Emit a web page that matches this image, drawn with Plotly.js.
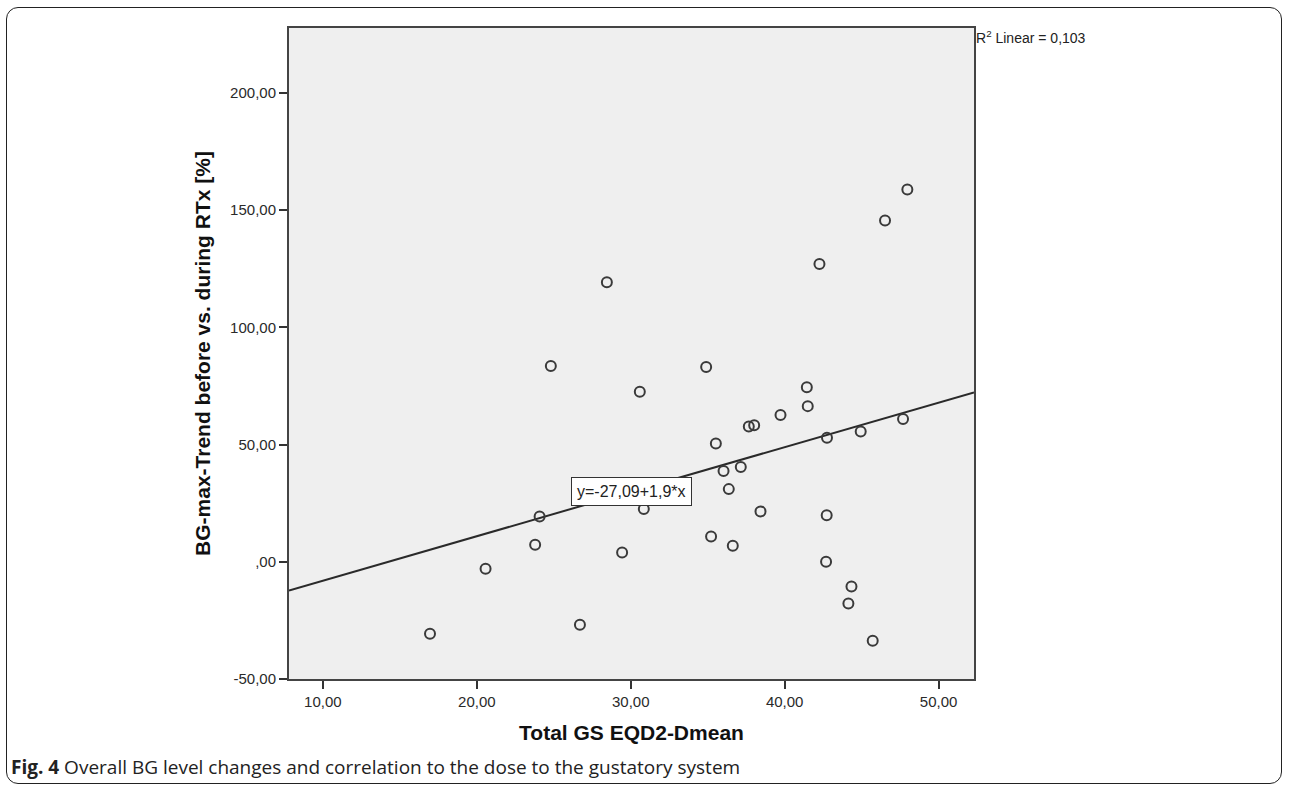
<!DOCTYPE html>
<html>
<head>
<meta charset="utf-8">
<script src="https://cdn.plot.ly/plotly-3.0.1.min.js"></script>
<style>
  html, body { margin: 0; padding: 0; background: #ffffff; }
  #wrap { position: relative; width: 1290px; height: 789px; }
  #chart { position: absolute; left: 0; top: 0; width: 1290px; height: 789px; }
  #frame { position: absolute; left: 6px; top: 7px; width: 1276px; height: 777px;
           border: 1.5px solid #222; border-radius: 12px; pointer-events: none; box-sizing: border-box; }
</style>
</head>
<body>
<div id="wrap">
  <div id="chart"></div>
  <div id="frame"></div>
</div>
<script>
// Scatter data: Total GS EQD2-Dmean vs BG-max-Trend change [%]
const doseValues = [47.97, 46.52, 42.26, 28.45, 24.81, 24.08, 23.79, 20.57, 29.44,
  30.59, 34.90, 41.44, 41.50, 39.73, 37.67, 38.02, 35.53, 42.75, 44.94, 47.69,
  36.03, 37.15, 36.37, 30.85, 38.43, 42.73, 35.22, 36.63, 42.69, 44.34, 44.14,
  16.96, 26.70, 45.72];
const trendValues = [158.8, 145.6, 127.0, 119.2, 83.5, 19.3, 7.3, -3.0, 4.0,
  72.5, 83.1, 74.5, 66.4, 62.6, 57.7, 58.2, 50.5, 52.9, 55.6, 60.9,
  38.7, 40.4, 31.0, 22.5, 21.5, 19.9, 10.8, 6.8, 0.0, -10.5, -17.8,
  -30.7, -26.9, -33.7];

// Fit line reported in the chart
const fitIntercept = -27.09;
const fitSlope = 1.9;
const fitLabel = "y=-27,09+1,9*x";
const r2Label = "R<sup>2</sup> Linear = 0,103";

// Axes
const xRange = [7.8, 52.3];
const yRange = [-50, 227.7];
const xTickVals = [10, 20, 30, 40, 50];
const xTickText = ["10,00", "20,00", "30,00", "40,00", "50,00"];
const yTickVals = [-50, 0, 50, 100, 150, 200];
const yTickText = ["-50,00", ",00", "50,00", "100,00", "150,00", "200,00"];

const xTitle = "Total GS EQD2-Dmean";
const yTitle = "BG-max-Trend before vs. during RTx [%]";
const caption = "<b>Fig. 4</b> Overall BG level changes and correlation to the dose to the gustatory system";

const fitX = [xRange[0], xRange[1]];
const fitY = fitX.map(v => fitIntercept + fitSlope * v);

const traces = [
  {
    type: 'scatter', mode: 'lines', x: fitX, y: fitY,
    line: { color: '#2a2a2a', width: 2 }, hoverinfo: 'skip', showlegend: false
  },
  {
    type: 'scatter', mode: 'markers', x: doseValues, y: trendValues,
    marker: { symbol: 'circle-open', size: 10, color: '#3a3a3a', line: { width: 2, color: '#3a3a3a' } },
    showlegend: false
  }
];

const axisFont = { family: 'Liberation Sans, Arial, sans-serif', size: 15, color: '#2a2a2a' };
const titleFont = { family: 'Liberation Sans, Arial, sans-serif', size: 21, color: '#111', weight: 'bold' };

const plotL = 289, plotR = 316, plotT = 28, plotB = 110;
const plotW = 1290 - plotL - plotR, plotH = 789 - plotT - plotB;

const layout = {
  width: 1290, height: 789,
  margin: { l: plotL, r: plotR, t: plotT, b: plotB },
  paper_bgcolor: 'rgba(0,0,0,0)',
  plot_bgcolor: '#efefef',
  showlegend: false,
  xaxis: {
    range: xRange, tickvals: xTickVals, ticktext: xTickText,
    ticks: 'outside', ticklen: 8, tickwidth: 2, tickcolor: '#333',
    showgrid: false, zeroline: false,
    showline: true, linecolor: '#444', linewidth: 2, mirror: true,
    tickfont: axisFont,
    title: { text: xTitle, standoff: 16, font: titleFont }
  },
  yaxis: {
    range: yRange, tickvals: yTickVals, ticktext: yTickText,
    ticks: 'outside', ticklen: 8, tickwidth: 2, tickcolor: '#333',
    showgrid: false, zeroline: false,
    showline: true, linecolor: '#444', linewidth: 2, mirror: true,
    tickfont: axisFont,
    title: { text: yTitle, standoff: 14, font: titleFont }
  },
  annotations: [
    {
      x: 30.07, y: 30.1, xref: 'x', yref: 'y', text: fitLabel, showarrow: false,
      font: { family: 'Liberation Sans, Arial, sans-serif', size: 16, color: '#222' },
      bgcolor: '#ffffff', bordercolor: '#333', borderwidth: 1, borderpad: 5
    },
    {
      x: 1, y: 1, xref: 'paper', yref: 'paper', xanchor: 'left', yanchor: 'top', yshift: 2,
      text: r2Label, showarrow: false,
      font: { family: 'Liberation Sans, Arial, sans-serif', size: 14, color: '#222' }
    },
    {
      xref: 'paper', yref: 'paper', xanchor: 'left', yanchor: 'middle',
      x: (9 - plotL) / plotW, y: (789 - plotB - 767) / plotH,
      text: caption, showarrow: false,
      font: { family: 'Open Sans, Noto Sans, sans-serif', size: 19, color: '#222' }
    }
  ]
};

Plotly.newPlot('chart', traces, layout, { displayModeBar: false, staticPlot: true });
</script>
</body>
</html>
